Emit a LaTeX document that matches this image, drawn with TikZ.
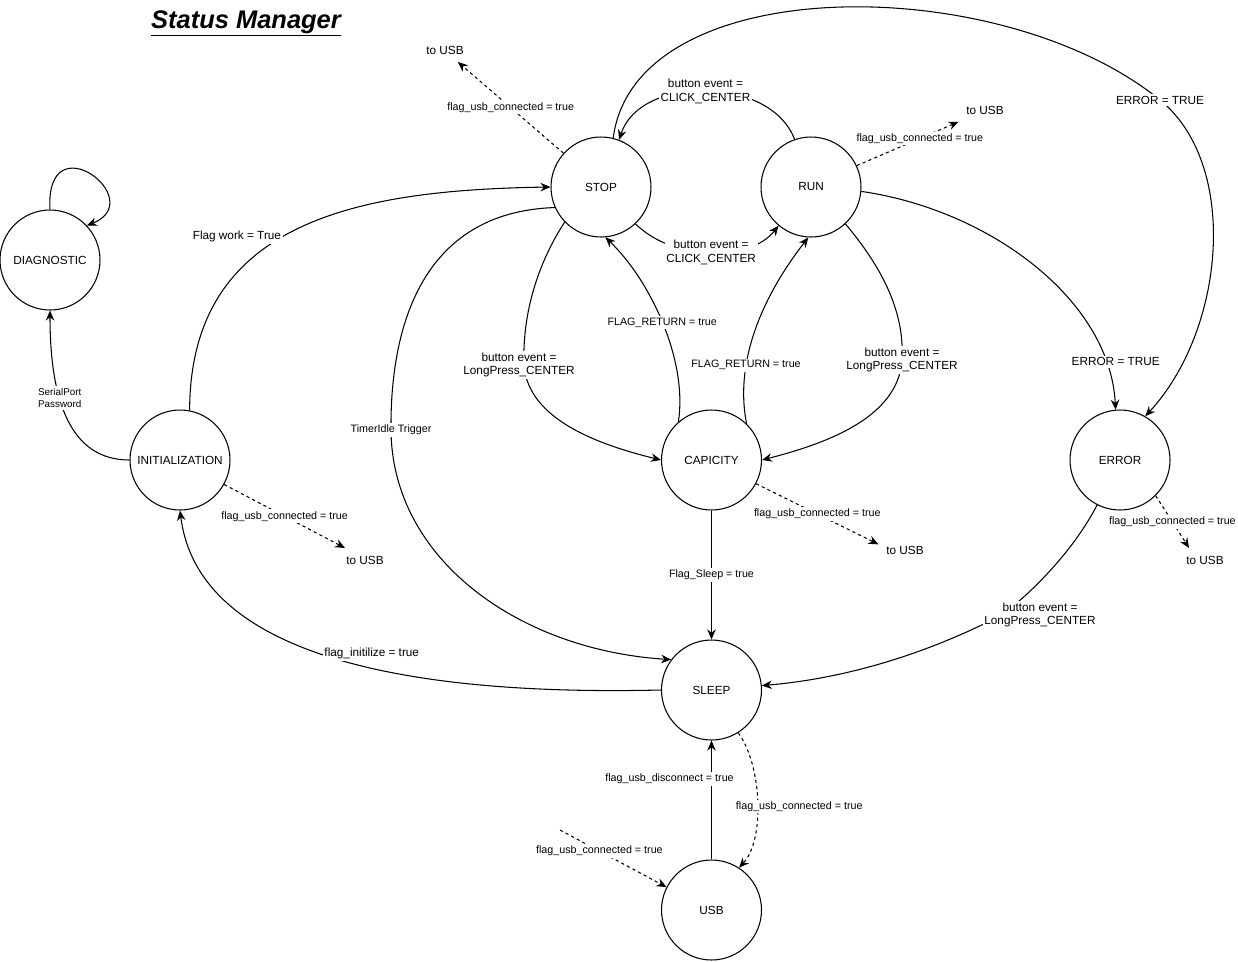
\documentclass[tikz,border=0pt]{standalone}
\usepackage{fontspec}
\setmainfont{Liberation Sans}
\usetikzlibrary{arrows.meta}

\tikzset{
    state/.style={circle, draw, line width=0.6pt, minimum size=2cm, inner sep=0pt, font=\fontsize{6.7}{8}\selectfont},
    lbl/.style={fill=white, inner sep=1pt, align=center, font=\fontsize{6.7}{7.9}\selectfont},
    lblsm/.style={fill=white, inner sep=1pt, align=center, font=\fontsize{6.1}{7.3}\selectfont},
    trans/.style={line width=0.6pt, -{Stealth[length=2mm, width=1.7mm]}},
    usbtrans/.style={trans, dash pattern=on 1.8pt off 1.8pt},
    tousb/.style={inner sep=0.15cm, font=\fontsize{6.7}{8}\selectfont}
}

\begin{document}
\begin{tikzpicture}[x=0.02cm, y=-0.02cm]

    % canvas is 1238 x 961 units, origin top left
    \useasboundingbox (0,0) rectangle (1238,961);

    % === Title ===
    \node[anchor=base] (title) at (246,28) {\fontsize{14.5}{17}\selectfont\bfseries\itshape\underline{Status Manager}};

    % === States ===
    \node[state] (diag)  at (50,260)   {DIAGNOSTIC};
    \node[state] (init)  at (180,460)  {INITIALIZATION};
    \node[state] (stop)  at (601,187)  {STOP};
    \node[state] (run)   at (811,187)  {RUN};
    \node[state] (cap)   at (711.5,460) {CAPICITY};
    \node[state] (err)   at (1120,460) {ERROR};
    \node[state] (sleep) at (711.5,690) {SLEEP};
    \node[state] (usb)   at (711.5,910) {USB};

    % === "to USB" exits ===
    \node[tousb] (tousbStop) at (445,50)   {to USB};
    \node[tousb] (tousbRun)  at (985,110)  {to USB};
    \node[tousb] (tousbInit) at (365,560)  {to USB};
    \node[tousb] (tousbCap)  at (905,550)  {to USB};
    \node[tousb] (tousbErr)  at (1205,560) {to USB};
    \coordinate (usbsrc) at (560,830);

    % === Diagnostic / initialization ===
    \draw[trans] (diag.90) .. controls (45,120) and (150,200) .. (diag.43);
    \draw[trans] (init.west) .. controls (70,460) and (50,400) .. (diag.south)
        node[lbl, pos=0.62, font=\fontsize{5.6}{7.2}\selectfont] {SerialPort\\Password};
    \draw[trans] (init.79) .. controls (190,220) and (360,190) .. (stop.west)
        node[lbl, pos=0.46, anchor=east] {Flag work = True};
    \draw[trans] (sleep.west) .. controls (450,695) and (200,670) .. (init.south)
        node[lbl, pos=0.55, anchor=west] {flag\_initilize = true};

    % === Stop / run ===
    \draw[trans] (run.109) .. controls (770,75) and (640,75) .. (stop.69)
        node[lbl, pos=0.5] {button event =\\CLICK\_CENTER};
    \draw[trans] (stop.-47) .. controls (675,262) and (750,262) .. (run.230)
        node[lbl, pos=0.5] {button event =\\CLICK\_CENTER};
    \draw[trans] (stop.204) .. controls (420,212) and (390,330) .. (391,430)
        node[lblsm] {TimerIdle Trigger}
        .. controls (392,560) and (520,650) .. (sleep.143);

    % === Capicity ===
    \draw[trans] (stop.224) .. controls (540,260) and (522,310) .. (524,365)
        node[lbl, xshift=-0.1cm] {button event =\\LongPress\_CENTER}
        .. controls (528,420) and (600,445) .. (cap.west);
    \draw[trans] (run.-47) .. controls (880,265) and (905,310) .. (902,360)
        node[lbl] {button event =\\LongPress\_CENTER}
        .. controls (898,420) and (820,445) .. (cap.east);
    \draw[trans] (cap.131) .. controls (688,360) and (650,280) .. (stop.-85)
        node[lblsm, pos=0.5] {FLAG\_RETURN = true};
    \draw[trans] (cap.46) .. controls (732,350) and (775,280) .. (run.-93)
        node[lblsm, pos=0.27] {FLAG\_RETURN = true};
    \draw[trans] (cap.south) -- (sleep.north)
        node[lblsm, pos=0.5] {Flag\_Sleep = true};

    % === Error ===
    \draw[trans] (stop.76) .. controls (635,-30) and (1000,-30) .. (1160,100)
        node[lbl] {ERROR = TRUE}
        .. controls (1240,165) and (1225,330) .. (err.60);
    \draw[trans] (run.-5) .. controls (990,210) and (1110,300) .. (err.95)
        node[lbl, pos=0.85, xshift=0.2cm] {ERROR = TRUE};
    \draw[trans] (err.243) .. controls (1075,548) and (1035,590) .. (1002,615)
        node[lbl, xshift=0.76cm] {button event =\\LongPress\_CENTER}
        .. controls (930,652) and (850,678) .. (sleep.5);

    % === Sleep / USB ===
    \draw[trans] (usb.north) -- (sleep.south)
        node[lblsm, pos=0.675, xshift=-0.84cm] {flag\_usb\_disconnect = true};
    \draw[usbtrans] (sleep.-58) .. controls (762,765) and (765,840) .. (usb.57)
        node[lblsm, pos=0.53, xshift=0.84cm] {flag\_usb\_connected = true};
    \draw[usbtrans] (usbsrc) -- (usb.153)
        node[lblsm, pos=0.37] {flag\_usb\_connected = true};

    % === Exits to USB ===
    \draw[usbtrans] (stop.138) -- (tousbStop.-43)
        node[lblsm, pos=0.5] {flag\_usb\_connected = true};
    \draw[usbtrans] (run.25) -- (tousbRun.204)
        node[lblsm, pos=0.62] {flag\_usb\_connected = true};
    \draw[usbtrans] (init.-29) -- (tousbInit.149)
        node[lblsm, pos=0.5] {flag\_usb\_connected = true};
    \draw[usbtrans] (cap.-28) -- (tousbCap.168)
        node[lblsm, pos=0.5] {flag\_usb\_connected = true};
    \draw[usbtrans] (err.-45) -- (tousbErr.143)
        node[lblsm, pos=0.5] {flag\_usb\_connected = true};

\end{tikzpicture}
\end{document}
